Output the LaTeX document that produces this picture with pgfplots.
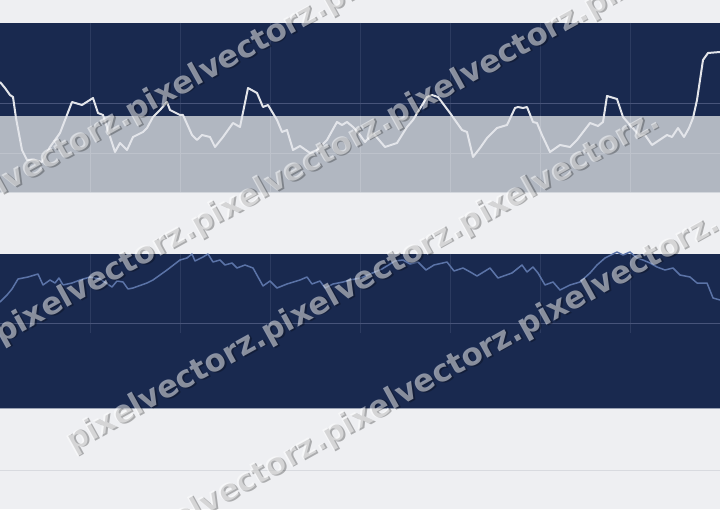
\documentclass[border=0pt]{standalone}
\usepackage{pgfplots}
\pgfplotsset{compat=1.18}
\usepackage{pgfplotstable}
\usepgfplotslibrary{fillbetween}
\usepackage{fontspec}
\newfontfamily\wmfont{DejaVu Sans}
\definecolor{bg}{HTML}{EEEFF2}
\definecolor{navy}{HTML}{19294F}
\definecolor{band}{HTML}{B1B7C1}
\definecolor{topline}{HTML}{E3E5EA}
\definecolor{botline}{HTML}{5B73A7}
\definecolor{gridnavy}{HTML}{2C3B60}
\definecolor{gridmid}{HTML}{47547A}
\definecolor{gridband}{HTML}{BDC2CB}
\definecolor{bandedge}{HTML}{D3D7DD}
\definecolor{navyedge}{HTML}{9AA2B3}
\definecolor{faintrule}{HTML}{D8DADF}

\pgfplotstableread{
x y
0 82
5 88
10 95
13 97
16 118
22 150
27 160
35 160
42 162
50 147
60 133
72 102
82 105
93 98
98 113
103 115
115 152
120 143
127 150
133 137
143 132
147 128
153 117
160 110
167 102
170 110
180 115
183 115
192 135
197 140
202 135
210 137
215 147
223 137
233 123
240 127
248 88
257 93
263 107
268 105
277 120
282 132
287 130
293 150
300 146
310 153
317 150
327 140
337 122
342 125
347 122
353 127
360 135
365 142
373 133
385 147
397 143
407 127
413 120
427 97
432 95
438 97
450 113
462 130
467 132
473 157
480 148
487 138
497 128
507 125
515 108
518 107
523 108
527 107
533 122
537 123
542 135
550 152
560 145
570 147
577 140
590 123
598 126
603 122
607 96
617 99
623 117
630 125
640 136
645 135
652 145
658 141
667 135
672 137
678 128
684 137
689 128
693 118
697 100
703 60
708 53
720 52
}\toptab

\pgfplotstableread{
x y
0 302
7 295
12 289
18 279
28 277
38 274
43 285
50 280
55 283
59 278
63 285
72 283
80 280
90 277
100 279
112 287
117 281
123 282
128 289
133 288
147 283
153 280
167 270
180 260
187 258
192 254
195 261
203 257
208 254
213 262
220 260
225 265
232 263
237 268
245 265
253 268
263 286
270 281
277 288
287 284
300 280
307 277
312 284
320 281
325 288
333 284
343 282
350 280
360 278
370 274
382 269
395 261
403 260
410 264
418 262
426 270
434 265
447 262
454 271
463 268
472 273
477 276
490 268
498 278
512 273
522 265
527 272
533 267
538 273
545 285
553 282
560 290
570 285
580 282
590 273
597 265
605 258
617 252
623 255
630 252
637 258
643 260
650 263
657 267
665 270
673 268
680 275
690 277
697 283
707 283
713 298
720 300
}\bottab

\newcommand{\wmrow}[3]{%
  \node[rotate=29, anchor=west, inner sep=0pt, text=black, text opacity=0.28,
        font=\wmfont\bfseries\fontsize{31}{31}\selectfont, xshift=1.4bp, yshift=-1.4bp]
        at (axis cs:#1,#2) {#3};
  \node[rotate=29, anchor=west, inner sep=0pt, text=white, text opacity=0.5,
        font=\wmfont\bfseries\fontsize{31}{31}\selectfont]
        at (axis cs:#1,#2) {#3};
}

\begin{document}
\begin{tikzpicture}
\begin{axis}[
  scale only axis, width=720bp, height=509bp,
  xmin=0, xmax=720, ymin=0, ymax=509, y dir=reverse,
  hide axis, clip=true,
]
% background
\addplot[fill=bg, draw=none] coordinates {(0,0)(720,0)(720,509)(0,509)} -- cycle;
% top panel
\addplot[fill=navy, draw=none] coordinates {(0,23)(720,23)(720,192)(0,192)} -- cycle;
\addplot[name path=topl, draw=none] table {\toptab};
\addplot[name path=topbase, draw=none] coordinates {(0,192)(720,192)};
\addplot[white, fill opacity=0.15, draw=none] fill between[of=topl and topbase];
% grey band
\addplot[fill=band, draw=none] coordinates {(0,116)(720,116)(720,192)(0,192)} -- cycle;
% top grid
\addplot[gridnavy, line width=0.8bp] coordinates {(90,23)(90,116)};
\addplot[gridnavy, line width=0.8bp] coordinates {(180,23)(180,116)};
\addplot[gridnavy, line width=0.8bp] coordinates {(270,23)(270,116)};
\addplot[gridnavy, line width=0.8bp] coordinates {(360,23)(360,116)};
\addplot[gridnavy, line width=0.8bp] coordinates {(450,23)(450,116)};
\addplot[gridnavy, line width=0.8bp] coordinates {(540,23)(540,116)};
\addplot[gridnavy, line width=0.8bp] coordinates {(630,23)(630,116)};
\addplot[gridband, line width=0.8bp] coordinates {(90,116)(90,192)};
\addplot[gridband, line width=0.8bp] coordinates {(180,116)(180,192)};
\addplot[gridband, line width=0.8bp] coordinates {(270,116)(270,192)};
\addplot[gridband, line width=0.8bp] coordinates {(360,116)(360,192)};
\addplot[gridband, line width=0.8bp] coordinates {(450,116)(450,192)};
\addplot[gridband, line width=0.8bp] coordinates {(540,116)(540,192)};
\addplot[gridband, line width=0.8bp] coordinates {(630,116)(630,192)};
\addplot[gridmid, line width=0.8bp] coordinates {(0,103)(720,103)};
\addplot[gridband, line width=0.8bp] coordinates {(0,153)(720,153)};
\addplot[bandedge, line width=0.8bp] coordinates {(0,192)(720,192)};
% top line
\addplot[topline, line width=2bp, line join=round] table {\toptab};

% bottom panel
\addplot[fill=navy, draw=none] coordinates {(0,254)(720,254)(720,408)(0,408)} -- cycle;
\addplot[name path=botl, draw=none] table {\bottab};
\addplot[name path=botbase, draw=none] coordinates {(0,333)(720,333)};
\addplot[botline, fill opacity=0.08, draw=none] fill between[of=botl and botbase];
\addplot[gridnavy, line width=0.8bp] coordinates {(90,254)(90,333)};
\addplot[gridnavy, line width=0.8bp] coordinates {(180,254)(180,333)};
\addplot[gridnavy, line width=0.8bp] coordinates {(270,254)(270,333)};
\addplot[gridnavy, line width=0.8bp] coordinates {(360,254)(360,333)};
\addplot[gridnavy, line width=0.8bp] coordinates {(450,254)(450,333)};
\addplot[gridnavy, line width=0.8bp] coordinates {(540,254)(540,333)};
\addplot[gridnavy, line width=0.8bp] coordinates {(630,254)(630,333)};
\addplot[gridmid, line width=0.8bp] coordinates {(0,323)(720,323)};
\addplot[navyedge, line width=0.8bp] coordinates {(0,408)(720,408)};
\addplot[botline, line width=1.5bp, line join=round] table {\bottab};
% faint rule
\addplot[faintrule, line width=0.8bp] coordinates {(0,470)(720,470)};

% watermark
\wmrow{-68}{224}{pixelvectorz.pixelvectorz.pixelvectorz.}
\wmrow{-3}{337}{pixelvectorz.pixelvectorz.pixelvectorz.pixelvectorz.}
\wmrow{68}{445}{pixelvectorz.pixelvectorz.pixelvectorz.}
\wmrow{128}{548}{pixelvectorz.pixelvectorz.pixelvectorz.}
\end{axis}
\pgfresetboundingbox
\path[use as bounding box] (current axis.south west) rectangle (current axis.north east);
\end{tikzpicture}
\end{document}
